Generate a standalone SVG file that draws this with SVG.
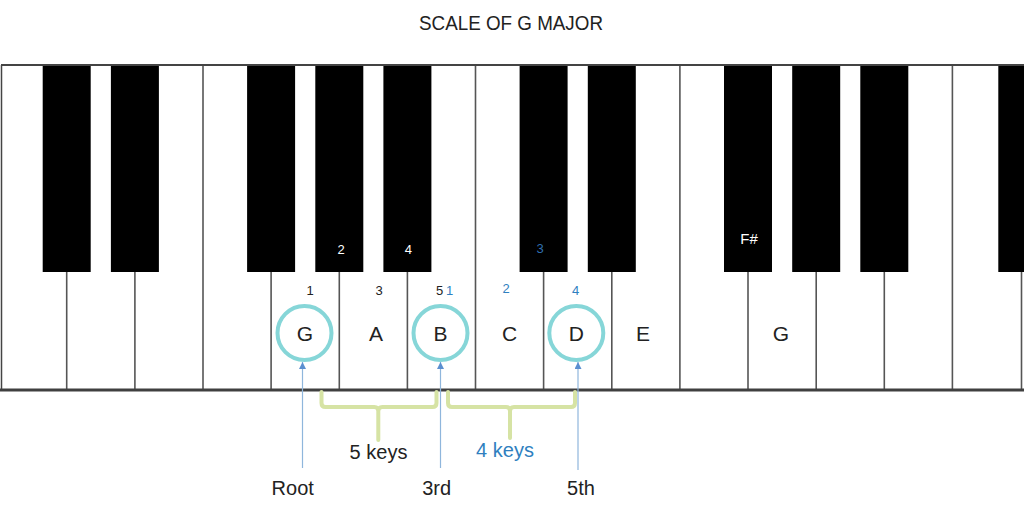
<svg xmlns="http://www.w3.org/2000/svg" width="1024" height="516" viewBox="0 0 1024 516">
<defs>
<style>
.wk{fill:#fff}
.div{stroke:#555;stroke-width:1.6}
.bk{fill:#000}
.t{font-family:"Liberation Sans",Arial,sans-serif;fill:#222}
.note{font-size:21px;text-anchor:middle}
.fn{font-size:13px;text-anchor:middle}
.lab{font-size:20px;text-anchor:middle}
.blue{fill:#2f7fbf}
.wt{fill:#fff}
.ring{fill:none;stroke:#86d6d8;stroke-width:4}
.arr{stroke:#8fb6dc;stroke-width:1.2;fill:none}
.brace{fill:none;stroke:#d6e3a4;stroke-width:4;stroke-linejoin:round;stroke-linecap:round}
</style>
<marker id="ah" viewBox="0 0 10 10" refX="10" refY="5" markerWidth="7" markerHeight="7" markerUnits="userSpaceOnUse" orient="auto">
<path d="M0,0 L10,5 L0,10 z" fill="#5b8fd0"/>
</marker>
</defs>
<rect width="1024" height="516" fill="#fff"/>
<text class="t" x="511" y="30" font-size="20" text-anchor="middle" textLength="184" lengthAdjust="spacingAndGlyphs">SCALE OF G MAJOR</text>

<g id="keyboard">
<rect class="wk" x="2" y="65" width="1020" height="325"/>
<g id="white-dividers">
<line class="div" x1="66.7" y1="271" x2="66.7" y2="390"/>
<line class="div" x1="134.9" y1="271" x2="134.9" y2="390"/>
<line class="div" x1="203" y1="65" x2="203" y2="390"/>
<line class="div" x1="271.1" y1="271" x2="271.1" y2="390"/>
<line class="div" x1="339.3" y1="271" x2="339.3" y2="390"/>
<line class="div" x1="407.4" y1="271" x2="407.4" y2="390"/>
<line class="div" x1="475.5" y1="65" x2="475.5" y2="390"/>
<line class="div" x1="543.6" y1="271" x2="543.6" y2="390"/>
<line class="div" x1="611.8" y1="271" x2="611.8" y2="390"/>
<line class="div" x1="679.9" y1="65" x2="679.9" y2="390"/>
<line class="div" x1="748" y1="271" x2="748" y2="390"/>
<line class="div" x1="816.2" y1="271" x2="816.2" y2="390"/>
<line class="div" x1="884.3" y1="271" x2="884.3" y2="390"/>
<line class="div" x1="952.4" y1="65" x2="952.4" y2="390"/>
<line class="div" x1="1021.5" y1="271" x2="1021.5" y2="390"/>
</g>
<g id="black-keys">
<rect class="bk" x="42.7" y="65" width="48" height="207"/>
<rect class="bk" x="110.9" y="65" width="48" height="207"/>
<rect class="bk" x="247.1" y="65" width="48" height="207"/>
<rect class="bk" x="315.3" y="65" width="48" height="207"/>
<rect class="bk" x="383.4" y="65" width="48" height="207"/>
<rect class="bk" x="519.6" y="65" width="48" height="207"/>
<rect class="bk" x="587.8" y="65" width="48" height="207"/>
<rect class="bk" x="724" y="65" width="48" height="207"/>
<rect class="bk" x="792.2" y="65" width="48" height="207"/>
<rect class="bk" x="860.3" y="65" width="48" height="207"/>
<rect class="bk" x="998.3" y="65" width="26" height="207"/>
</g>
<line x1="1" y1="65" x2="1024" y2="65" stroke="#444" stroke-width="2"/>
<line x1="1.5" y1="65" x2="1.5" y2="390" stroke="#444" stroke-width="1.5"/>
<line x1="0" y1="390" x2="1024" y2="390" stroke="#404040" stroke-width="3"/>
</g>

<g id="node-G"><circle class="ring" cx="304.5" cy="333" r="27"/><text class="t note" x="305" y="341">G</text></g>
<g id="node-A"><text class="t note" x="376" y="341">A</text></g>
<g id="node-B"><circle class="ring" cx="440.5" cy="333" r="27"/><text class="t note" x="440.5" y="341">B</text></g>
<g id="node-C"><text class="t note" x="509.5" y="341">C</text></g>
<g id="node-D"><circle class="ring" cx="576.3" cy="333" r="27"/><text class="t note" x="576.3" y="341">D</text></g>
<g id="node-E"><text class="t note" x="643" y="341">E</text></g>
<g id="node-G2"><text class="t note" x="781" y="341">G</text></g>

<g id="fingering">
<text class="t fn" x="310" y="295">1</text>
<text class="t fn" x="379" y="295">3</text>
<text class="t fn" x="439.5" y="295">5</text>
<text class="t fn blue" x="449.5" y="295">1</text>
<text class="t fn blue" x="506" y="293">2</text>
<text class="t fn blue" x="575.7" y="295">4</text>
<text class="t fn wt" x="341" y="254">2</text>
<text class="t fn wt" x="408.3" y="254">4</text>
<text class="t fn" x="540" y="253" fill="#2f6fb0" style="fill:#2f6fb0">3</text>
<text class="t wt" x="749" y="244" font-size="15" text-anchor="middle">F#</text>
</g>

<g id="connectors">
<line class="arr" x1="302.5" y1="468" x2="302.5" y2="362" marker-end="url(#ah)"/>
<line class="arr" x1="440.5" y1="468" x2="440.5" y2="362" marker-end="url(#ah)"/>
<line class="arr" x1="578" y1="470" x2="578" y2="362" marker-end="url(#ah)"/>
<path class="brace" d="M321.5,392 L321.5,403 Q321.5,407 325.5,407 L374.3,407 Q378.3,407 378.3,411 L378.3,440 M378.3,411 Q378.3,407 382.3,407 L432.5,407 Q436.5,407 436.5,403 L436.5,392"/>
<path class="brace" d="M448,392 L448,403 Q448,407 452,407 L506,407 Q510,407 510,411 L510,438 M510,411 Q510,407 514,407 L571,407 Q575,407 575,403 L575,392"/>
</g>

<g id="labels">
<text class="t lab" x="378.5" y="459">5 keys</text>
<text class="t lab blue" x="505" y="457">4 keys</text>
<text class="t lab" x="292.7" y="495">Root</text>
<text class="t lab" x="436.7" y="495">3rd</text>
<text class="t lab" x="581" y="495">5th</text>
</g>
</svg>
